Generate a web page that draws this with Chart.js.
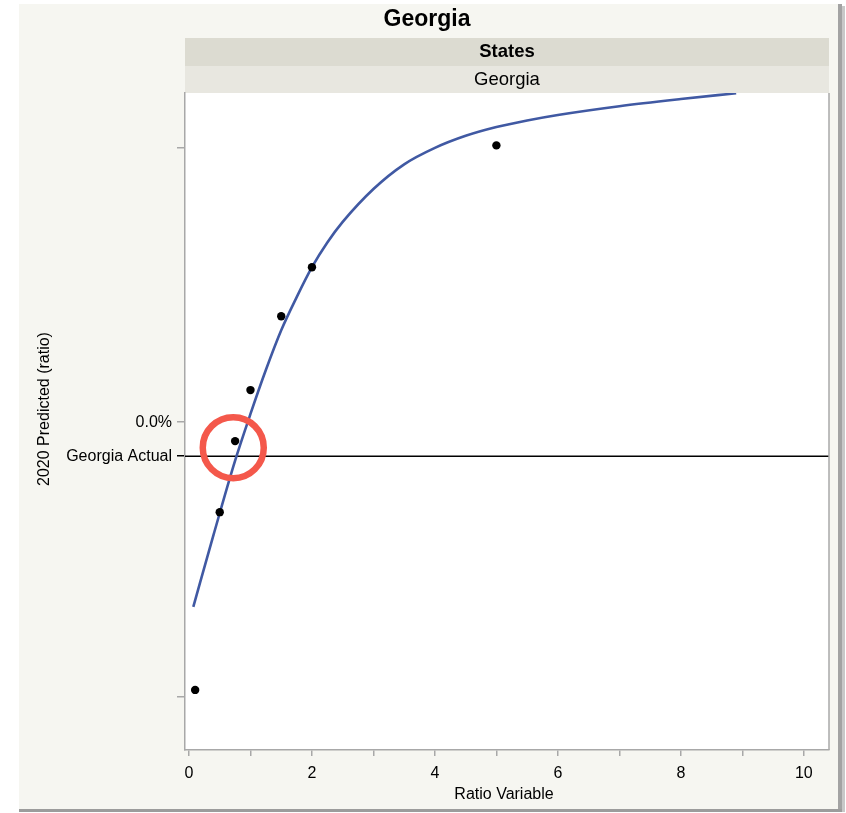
<!DOCTYPE html>
<html>
<head>
<meta charset="utf-8">
<style>
  html, body { margin: 0; padding: 0; background: #ffffff; }
  #wrap { position: absolute; left: 0; top: 0; width: 846px; height: 813px; }
</style>
<script src="https://cdn.jsdelivr.net/npm/chart.js@4.4.1/dist/chart.umd.min.js"></script>
</head>
<body>
<div id="wrap"><canvas id="c" width="846" height="813"></canvas></div>
<script>
// ---- data ----
const chartTitle = "Georgia";
const groupHeader = "States";
const groupValue = "Georgia";
const xAxisTitle = "Ratio Variable";
const yAxisTitle = "2020 Predicted (ratio)";

const pointX = [0.1, 0.5, 0.75, 1.0, 1.5, 2.0, 5.0];
const pointY = [-0.976, -0.328, -0.069, 0.117, 0.386, 0.565, 1.009];

const curveX = [0.07, 0.4, 0.75, 1.0, 1.25, 1.5, 1.75, 2.0, 2.25, 2.5, 3.0, 3.5, 4.0, 4.5, 5.0, 5.5, 6.0, 7.0, 8.0, 8.9];
const curveY = [-0.673, -0.41, -0.14, 0.03, 0.19, 0.335, 0.455, 0.565, 0.655, 0.73, 0.85, 0.94, 1.0, 1.044, 1.076, 1.1, 1.12, 1.152, 1.178, 1.199];

const actualValue = -0.124;          // "Georgia Actual" reference line
const actualLabel = "Georgia Actual";
const xTickValues = [0, 1, 2, 3, 4, 5, 6, 7, 8, 9, 10];
const yTickValues = [-1, actualValue, 0, 1];
const yTickLabels = ["", actualLabel, "0.0%", ""];
const xMin = -0.065, xMax = 10.41;
const yMin = -1.195, yMax = 1.2;

const markX = 0.72, markY = -0.093;  // red highlight circle centre

// ---- chart ----
const FONT = "'Liberation Sans', Arial, Helvetica, sans-serif";

const backdrop = {
  id: 'backdrop',
  beforeDraw(chart) {
    const ctx = chart.ctx, a = chart.chartArea;
    ctx.save();
    ctx.fillStyle = '#ffffff';
    ctx.fillRect(0, 0, chart.width, chart.height);
    // panel
    ctx.fillStyle = '#f6f6f1';
    ctx.fillRect(19, 4, 819, 805);
    // shadow right / bottom
    ctx.fillStyle = '#a3a3a3';
    ctx.fillRect(838, 4, 4, 807);
    ctx.fillStyle = '#c8c8c8';
    ctx.fillRect(842, 6, 3, 806);
    ctx.fillStyle = '#9c9c9c';
    ctx.fillRect(19, 809, 823, 3);
    // plot area
    ctx.fillStyle = '#ffffff';
    ctx.fillRect(a.left, a.top, a.right - a.left, a.bottom - a.top);
    // header bands
    ctx.fillStyle = '#dcdbd1';
    ctx.fillRect(a.left, 38, a.right - a.left, 28);
    ctx.fillStyle = '#e8e7e0';
    ctx.fillRect(a.left, 66, a.right - a.left, a.top - 66);
    ctx.restore();
  },
  afterDatasetsDraw(chart) {
    const ctx = chart.ctx;
    const xs = chart.scales.x, ys = chart.scales.y;
    const cx = xs.getPixelForValue(markX), cy = ys.getPixelForValue(markY);
    ctx.save();
    ctx.strokeStyle = '#f4584b';
    ctx.lineWidth = 6.5;
    ctx.beginPath();
    ctx.arc(cx, cy, 30.5, 0, Math.PI * 2);
    ctx.stroke();
    ctx.restore();
  },
  afterDraw(chart) {
    const ctx = chart.ctx, a = chart.chartArea;
    ctx.save();
    // right frame line
    ctx.strokeStyle = '#a8a8a8';
    ctx.lineWidth = 1.5;
    ctx.beginPath();
    ctx.moveTo(a.right, a.top);
    ctx.lineTo(a.right, a.bottom);
    ctx.stroke();
    ctx.fillStyle = '#000';
    ctx.textAlign = 'center';
    ctx.textBaseline = 'middle';
    ctx.font = 'bold 23px ' + FONT;
    ctx.fillText(chartTitle, 427, 20);
    const mid = (a.left + a.right) / 2;
    ctx.font = 'bold 18.5px ' + FONT;
    ctx.fillText(groupHeader, mid, 52);
    ctx.font = '18.5px ' + FONT;
    ctx.fillText(groupValue, mid, 80);
    ctx.font = '16px ' + FONT;
    ctx.fillText(xAxisTitle, mid - 3, 795);
    ctx.translate(45, 409);
    ctx.rotate(-Math.PI / 2);
    ctx.fillText(yAxisTitle, 0, 0);
    ctx.restore();
  }
};

new Chart(document.getElementById('c'), {
  type: 'scatter',
  data: {
    datasets: [
      {
        type: 'line',
        label: 'Actual',
        data: [{ x: xMin, y: actualValue }, { x: xMax, y: actualValue }],
        borderColor: '#000000',
        borderWidth: 1.5,
        pointRadius: 0,
        order: 3
      },
      {
        type: 'line',
        label: 'Fit',
        data: curveX.map((x, i) => ({ x, y: curveY[i] })),
        borderColor: '#4059a3',
        borderWidth: 2.6,
        pointRadius: 0,
        cubicInterpolationMode: 'monotone',
        order: 2
      },
      {
        label: 'Observed',
        data: pointX.map((x, i) => ({ x, y: pointY[i] })),
        backgroundColor: '#000000',
        borderWidth: 0,
        pointRadius: 4.2,
        order: 1
      }
    ]
  },
  options: {
    responsive: false,
    animation: false,
    devicePixelRatio: 1,
    layout: { padding: { left: 19, right: 17, top: 93, bottom: 5 } },
    plugins: { legend: { display: false }, tooltip: { enabled: false }, title: { display: false } },
    scales: {
      x: {
        type: 'linear',
        min: xMin, max: xMax,
        afterBuildTicks: s => { s.ticks = xTickValues.map(v => ({ value: v })); },
        afterFit: s => { s.height = 58; },
        ticks: {
          autoSkip: false,
          maxRotation: 0,
          padding: 8,
          color: '#000',
          font: { family: FONT, size: 16 },
          callback: v => (v % 2 === 0 ? String(v) : '')
        },
        grid: { drawOnChartArea: false, drawTicks: true, tickLength: 6, color: '#a8a8a8', lineWidth: 1.5 },
        border: { display: true, color: '#a8a8a8', width: 1.5 }
      },
      y: {
        type: 'linear',
        min: yMin, max: yMax,
        afterBuildTicks: s => { s.ticks = yTickValues.map(v => ({ value: v })); },
        afterFit: s => { s.width = 166; },
        ticks: {
          autoSkip: false,
          padding: 5,
          color: '#000',
          font: { family: FONT, size: 16 },
          callback: (v, i) => yTickLabels[i]
        },
        grid: {
          drawOnChartArea: false, drawTicks: true, tickLength: 8,
          color: c => (c.tick && c.tick.value === actualValue ? '#000000' : '#a8a8a8'),
          lineWidth: 1.5
        },
        border: { display: true, color: '#a8a8a8', width: 1.5 }
      }
    }
  },
  plugins: [backdrop]
});
</script>
</body>
</html>
